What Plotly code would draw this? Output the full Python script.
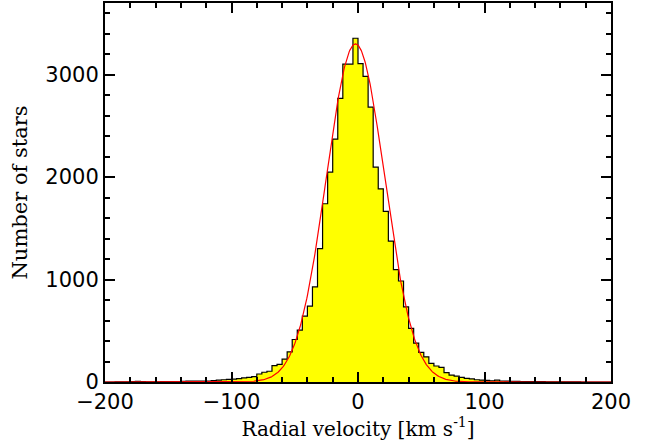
import numpy as np
import plotly.graph_objects as go

# Histogram: bins of 4 km/s from -200 to 200
bin_start = -200
bin_width = 4
counts = [
    0, 0, 1, 1, 2,            # -200..-180
    5, 6, 4, 2, 2,            # -180..-160
    2, 3, 3, 4, 5,            # -160..-140
    6, 8, 8, 8, 10,           # -140..-120
    10, 14, 18, 22, 26,       # -120..-100
    28, 32, 40, 45, 52,       # -100..-80
    78, 95, 105, 159, 172,    # -80..-60
    224, 295, 415, 506, 643,  # -60..-40
    740, 928, 1302, 1740, 2048,   # -40..-20
    2372, 2768, 3103, 3103, 3356, # -20..0
    3109, 2983, 2683, 2097, 1886, # 0..20
    1665, 1376, 1097, 986, 733,   # 20..40
    523, 380, 290, 246, 182,      # 40..60
    156, 143, 91, 68, 58,         # 60..80
    46, 36, 30, 22, 19,           # 80..100
    15, 12, 18, 10, 9,            # 100..120
    7, 6, 5, 4, 4,                # 120..140
    3, 3, 2, 2, 2,                # 140..160
    2, 1, 1, 1, 0,                # 160..180
    0, 0, 0, 0, 0,                # 180..200
]

# Gaussian fit parameters (red curve)
fit_amplitude = 3300
fit_mean = -2.0
fit_sigma = 23.0

x_ticks = [-200, -100, 0, 100, 200]
y_ticks = [0, 1000, 2000, 3000]

edges = [bin_start + i * bin_width for i in range(len(counts) + 1)]
step_x = edges
step_y = counts + [counts[-1]]

xf = np.linspace(-200, 200, 801)
yf = fit_amplitude * np.exp(-0.5 * ((xf - fit_mean) / fit_sigma) ** 2)

fig = go.Figure()
fig.add_trace(go.Scatter(
    x=step_x, y=step_y, mode="lines", line=dict(shape="hv", color="black", width=1.2),
    fill="tozeroy", fillcolor="#ffff00", hoverinfo="skip", showlegend=False,
))
fig.add_trace(go.Scatter(
    x=xf, y=yf, mode="lines", line=dict(color="#ff0000", width=1.2),
    hoverinfo="skip", showlegend=False,
))

axis_common = dict(
    showline=True, linecolor="black", linewidth=2, mirror="ticks",
    ticks="inside", ticklen=10, tickwidth=1.5, tickcolor="black",
    showgrid=False, zeroline=False, automargin=False,
    tickfont=dict(family="DejaVu Sans", size=21, color="black"),
)

fig.update_layout(
    width=650, height=446,
    margin=dict(l=105, r=39, t=3, b=64),
    paper_bgcolor="white", plot_bgcolor="white",
    xaxis=dict(
        range=[-200, 200], tickvals=x_ticks,
        minor=dict(dtick=20, ticklen=5, ticks="inside", tickcolor="black", tickwidth=1.5),
        title=dict(text="Radial velocity [km s<sup>-1</sup>]",
                   font=dict(family="DejaVu Serif", size=20, color="black"), standoff=6),
        **axis_common,
    ),
    yaxis=dict(
        range=[0, 3700], tickvals=y_ticks,
        minor=dict(dtick=200, ticklen=5, ticks="inside", tickcolor="black", tickwidth=1.5),
        title=dict(text="Number of stars",
                   font=dict(family="DejaVu Serif", size=21, color="black"), standoff=12),
        **axis_common,
    ),
)

fig.write_html("out.html", config={"displayModeBar": False},
               post_script="document.body.style.margin='0';")
